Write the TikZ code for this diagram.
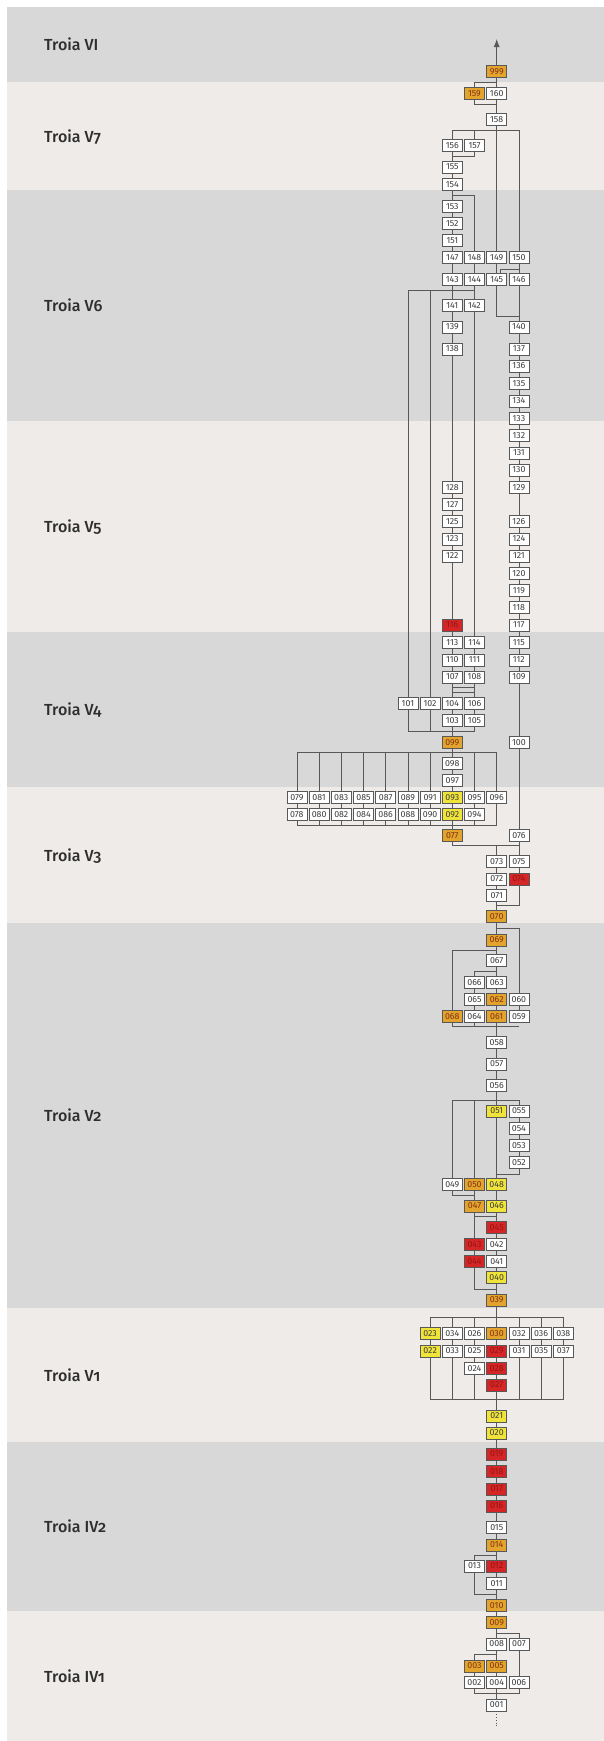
\documentclass[tikz,border=0pt]{standalone}
\usepackage{fontspec}
\setmainfont{Fira Sans}[Numbers=OldStyle]
\newfontfamily\labfont{Fira Sans Medium}[Numbers=OldStyle]
\newfontfamily\boxfont{Fira Sans}[Numbers=Lining]
\usetikzlibrary{arrows.meta}
\definecolor{bandD}{RGB}{216,216,216}
\definecolor{bandL}{RGB}{238,235,232}
\definecolor{linec}{RGB}{88,88,88}
\definecolor{txtc}{RGB}{60,60,60}
\definecolor{orangec}{RGB}{226,164,44}
\definecolor{yellowc}{RGB}{240,228,58}
\definecolor{redc}{RGB}{212,38,38}
\definecolor{redtxt}{RGB}{150,20,20}
\definecolor{orgtxt}{RGB}{130,50,20}
\pgfdeclarelayer{linel}
\pgfsetlayers{linel,main}
\newcommand{\hmbox}[4][]{\node[hbox,#1] (n#4) at (#2,#3) {#4};}
\begin{document}
\begin{tikzpicture}[x=1pt,y=-1pt,
  hbox/.style={draw=linec,fill=white,line width=0.8pt,minimum width=20pt,minimum height=12pt,inner sep=0pt,
    font=\boxfont\fontsize{8.8}{9}\selectfont,text=txtc},
  orng/.style={fill=orangec,text=orgtxt},
  yelw/.style={fill=yellowc,text=txtc},
  redb/.style={fill=redc,text=redtxt},
  conn/.style={draw=linec,line width=0.8pt},
  lab/.style={anchor=base west,inner sep=0pt,font=\labfont\fontsize{16}{18}\selectfont,text=black!82}]
\useasboundingbox (0,0) rectangle (604,1741);

% ---------------- boxes ----------------
\hmbox[orng]{496.7}{71.2}{999}
\hmbox[orng]{474.5}{93.5}{159}
\hmbox{496.7}{93.5}{160}
\hmbox{496.7}{119.3}{158}
\hmbox{452.3}{145.8}{156}
\hmbox{474.5}{145.8}{157}
\hmbox{452.3}{167}{155}
\hmbox{452.3}{184.4}{154}
\hmbox{452.3}{206.2}{153}
\hmbox{452.3}{223.3}{152}
\hmbox{452.3}{240.7}{151}
\hmbox{452.3}{257.8}{147}
\hmbox{474.5}{257.8}{148}
\hmbox{496.7}{257.8}{149}
\hmbox{518.9}{257.8}{150}
\hmbox{452.3}{279.7}{143}
\hmbox{474.5}{279.7}{144}
\hmbox{496.7}{279.7}{145}
\hmbox{518.9}{279.7}{146}
\hmbox{452.3}{305.8}{141}
\hmbox{474.5}{305.8}{142}
\hmbox{452.3}{327}{139}
\hmbox{452.3}{349}{138}
\hmbox{518.9}{327}{140}
\hmbox{518.9}{349}{137}
\hmbox{518.9}{366}{136}
\hmbox{518.9}{383.3}{135}
\hmbox{518.9}{401}{134}
\hmbox{518.9}{418.3}{133}
\hmbox{518.9}{435.7}{132}
\hmbox{518.9}{453}{131}
\hmbox{518.9}{470}{130}
\hmbox{518.9}{487.3}{129}
\hmbox{452.3}{487.3}{128}
\hmbox{452.3}{504.3}{127}
\hmbox{452.3}{521.7}{125}
\hmbox{452.3}{539}{123}
\hmbox{452.3}{556}{122}
\hmbox{518.9}{521.7}{126}
\hmbox{518.9}{539}{124}
\hmbox{518.9}{556}{121}
\hmbox{518.9}{573.3}{120}
\hmbox{518.9}{590.7}{119}
\hmbox{518.9}{607.7}{118}
\hmbox{518.9}{625}{117}
\hmbox[redb]{452.3}{625}{116}
\hmbox{452.3}{642.3}{113}
\hmbox{474.5}{642.3}{114}
\hmbox{518.9}{642.3}{115}
\hmbox{452.3}{660}{110}
\hmbox{474.5}{660}{111}
\hmbox{518.9}{660}{112}
\hmbox{452.3}{677}{107}
\hmbox{474.5}{677}{108}
\hmbox{518.9}{677}{109}
\hmbox{407.9}{703.3}{101}
\hmbox{430.1}{703.3}{102}
\hmbox{452.3}{703.3}{104}
\hmbox{474.5}{703.3}{106}
\hmbox{452.3}{720.7}{103}
\hmbox{474.5}{720.7}{105}
\hmbox[orng]{452.3}{742.3}{099}
\hmbox{518.9}{742.3}{100}
\hmbox{452.3}{763.3}{098}
\hmbox{452.3}{780.7}{097}
\hmbox{296.9}{797.3}{079}
\hmbox{319.1}{797.3}{081}
\hmbox{341.3}{797.3}{083}
\hmbox{363.5}{797.3}{085}
\hmbox{385.7}{797.3}{087}
\hmbox{407.9}{797.3}{089}
\hmbox{430.1}{797.3}{091}
\hmbox[yelw]{452.3}{797.3}{093}
\hmbox{474.5}{797.3}{095}
\hmbox{496.7}{797.3}{096}
\hmbox{296.9}{814.3}{078}
\hmbox{319.1}{814.3}{080}
\hmbox{341.3}{814.3}{082}
\hmbox{363.5}{814.3}{084}
\hmbox{385.7}{814.3}{086}
\hmbox{407.9}{814.3}{088}
\hmbox{430.1}{814.3}{090}
\hmbox[yelw]{452.3}{814.3}{092}
\hmbox{474.5}{814.3}{094}
\hmbox[orng]{452.3}{835.7}{077}
\hmbox{518.9}{835.7}{076}
\hmbox{496.7}{861.7}{073}
\hmbox{518.9}{861.7}{075}
\hmbox{496.7}{879}{072}
\hmbox[redb]{518.9}{879}{074}
\hmbox{496.7}{895.7}{071}
\hmbox[orng]{496.7}{916.7}{070}
\hmbox[orng]{496.7}{940}{069}
\hmbox{496.7}{960.7}{067}
\hmbox{474.5}{982.3}{066}
\hmbox{496.7}{982.3}{063}
\hmbox{474.5}{999.3}{065}
\hmbox[orng]{496.7}{999.3}{062}
\hmbox{518.9}{999.3}{060}
\hmbox[orng]{452.3}{1016.7}{068}
\hmbox{474.5}{1016.7}{064}
\hmbox[orng]{496.7}{1016.7}{061}
\hmbox{518.9}{1016.7}{059}
\hmbox{496.7}{1042.7}{058}
\hmbox{496.7}{1064}{057}
\hmbox{496.7}{1085.7}{056}
\hmbox[yelw]{496.7}{1111}{051}
\hmbox{518.9}{1111}{055}
\hmbox{518.9}{1128.3}{054}
\hmbox{518.9}{1145.7}{053}
\hmbox{518.9}{1162.7}{052}
\hmbox{452.3}{1184.3}{049}
\hmbox[orng]{474.5}{1184.3}{050}
\hmbox[yelw]{496.7}{1184.3}{048}
\hmbox[orng]{474.5}{1206}{047}
\hmbox[yelw]{496.7}{1206}{046}
\hmbox[redb]{496.7}{1227.3}{045}
\hmbox[redb]{474.5}{1244.3}{043}
\hmbox{496.7}{1244.3}{042}
\hmbox[redb]{474.5}{1261.7}{044}
\hmbox{496.7}{1261.7}{041}
\hmbox[yelw]{496.7}{1277.7}{040}
\hmbox[orng]{496.7}{1300}{039}
\hmbox[yelw]{430.1}{1333.3}{023}
\hmbox{452.3}{1333.3}{034}
\hmbox{474.5}{1333.3}{026}
\hmbox[orng]{496.7}{1333.3}{030}
\hmbox{518.9}{1333.3}{032}
\hmbox{541.1}{1333.3}{036}
\hmbox{563.3}{1333.3}{038}
\hmbox[yelw]{430.1}{1351}{022}
\hmbox{452.3}{1351}{033}
\hmbox{474.5}{1351}{025}
\hmbox[redb]{496.7}{1351}{029}
\hmbox{518.9}{1351}{031}
\hmbox{541.1}{1351}{035}
\hmbox{563.3}{1351}{037}
\hmbox{474.5}{1368.3}{024}
\hmbox[redb]{496.7}{1368.3}{028}
\hmbox[redb]{496.7}{1385}{027}
\hmbox[yelw]{496.7}{1416}{021}
\hmbox[yelw]{496.7}{1433}{020}
\hmbox[redb]{496.7}{1454}{019}
\hmbox[redb]{496.7}{1471.7}{018}
\hmbox[redb]{496.7}{1489}{017}
\hmbox[redb]{496.7}{1506}{016}
\hmbox{496.7}{1527.7}{015}
\hmbox[orng]{496.7}{1545}{014}
\hmbox{474.5}{1566}{013}
\hmbox[redb]{496.7}{1566}{012}
\hmbox{496.7}{1583.3}{011}
\hmbox[orng]{496.7}{1605.7}{010}
\hmbox[orng]{496.7}{1622.7}{009}
\hmbox{496.7}{1644}{008}
\hmbox{518.9}{1644}{007}
\hmbox[orng]{474.5}{1666}{003}
\hmbox[orng]{496.7}{1666}{005}
\hmbox{474.5}{1682.7}{002}
\hmbox{496.7}{1682.7}{004}
\hmbox{518.9}{1682.7}{006}
\hmbox{496.7}{1705}{001}

% ---------------- labels ----------------
\node[lab] (lVI)  at (44,50.5)   {Troia VI};
\node[lab] (lV7)  at (44,142)    {Troia V7};
\node[lab] (lV6)  at (44,311.5)  {Troia V6};
\node[lab] (lV5)  at (44,532.5)  {Troia V5};
\node[lab] (lV4)  at (44,715.5)  {Troia V4};
\node[lab] (lV3)  at (44,861)    {Troia V3};
\node[lab] (lV2)  at (44,1121.5) {Troia V2};
\node[lab] (lV1)  at (44,1381)   {Troia V1};
\node[lab] (lIV2) at (44,1532.5) {Troia IV2};
\node[lab] (lIV1) at (44,1682)   {Troia IV1};

\begin{pgfonlayer}{linel}
% bands
\fill[bandD] (7,7) rectangle (604,82);
\fill[bandL] (7,82) rectangle (604,190);
\fill[bandD] (7,190) rectangle (604,421);
\fill[bandL] (7,421) rectangle (604,632);
\fill[bandD] (7,632) rectangle (604,787);
\fill[bandL] (7,787) rectangle (604,923);
\fill[bandD] (7,923) rectangle (604,1308);
\fill[bandL] (7,1308) rectangle (604,1442);
\fill[bandD] (7,1442) rectangle (604,1611);
\fill[bandL] (7,1611) rectangle (604,1741);

% bus coordinates
\coordinate (tip) at (496.7,39);
\coordinate (b1) at (496.7,82.7);
\coordinate (b2) at (496.7,104);
\coordinate (b3) at (496.7,130.7);
\coordinate (b4) at (452.3,156);
\coordinate (b5) at (452.3,195);
\coordinate (b6) at (518.9,269);
\coordinate (b7) at (518.9,316.7);
\coordinate (b8) at (474.5,290);
\coordinate (b9) at (474.5,731);
\coordinate (b10) at (296.9,752.7);
\coordinate (b11) at (496.7,825);
\coordinate (b12) at (518.9,845.7);
\coordinate (b13) at (496.7,905.7);
\coordinate (b14) at (518.9,928.3);
\coordinate (b15) at (496.7,950);
\coordinate (b16) at (496.7,971.7);
\coordinate (b17) at (518.9,1026.7);
\coordinate (b18) at (518.9,1100.7);
\coordinate (b19) at (496.7,1174);
\coordinate (b20) at (474.5,1195);
\coordinate (b21) at (496.7,1216);
\coordinate (b22) at (496.7,1289.3);
\coordinate (b23) at (563.3,1317.3);
\coordinate (b24) at (563.3,1399.3);
\coordinate (b25) at (496.7,1555);
\coordinate (b26) at (496.7,1594);
\coordinate (b27) at (496.7,1633.3);
\coordinate (b28) at (496.7,1654.3);
\coordinate (b29) at (518.9,1693.3);
\coordinate (dend) at (496.7,1727);

% top
\draw[conn,-{Latex[length=8pt,width=6pt]}] (n999.north) -- (tip);
\draw[conn] (n999.south) -- (n160.north);
\draw[conn] (n159.north) |- (b1);
\draw[conn] (n159.south) |- (b2);
\draw[conn] (n160.south) -- (n158.north);
\draw[conn] (n156.north) |- (b3);
\draw[conn] (n157.north) -- (n157.north |- b3);
\draw[conn] (b3) -| (n150.north);
\draw[conn] (n158.south) -- (n149.north);
\draw[conn] (n157.south) |- (b4);
\draw[conn] (b5) -| (n148.north);
\foreach \a/\b in {156/155,155/154,154/153,153/152,152/151,151/147,147/143,148/144,149/145,150/146,
  143/141,144/142,141/139,139/138,138/128,142/114}
  \draw[conn] (n\a.south) -- (n\b.north);
\draw[conn] ([xshift=4pt]n145.north) |- (b6);
\draw[conn] (n145.south) |- (b7);
\draw[conn] (n146.south) -- (n140.north);
\draw[conn] (n101.north) |- (b8);
\draw[conn] (n102.north) -- (n102.north |- b8);
% right column
\foreach \a/\b in {140/137,137/136,136/135,135/134,134/133,133/132,132/131,131/130,130/129,129/126,
  126/124,124/121,121/120,120/119,119/118,118/117,117/115,115/112,112/109,109/100,100/076,076/075,075/074}
  \draw[conn] (n\a.south) -- (n\b.north);
% left columns V5/V4
\foreach \a/\b in {128/127,127/125,125/123,123/122,122/116,116/113,113/110,110/107,107/104,104/103,
  114/111,111/108,108/106,106/105,103/099}
  \draw[conn] (n\a.south) -- (n\b.north);
\draw[conn] ([yshift=-4.3pt]n107.south) -- ([yshift=-4.3pt]n108.south);
\draw[conn] ([yshift=-8.6pt]n107.south) -- ([yshift=-8.6pt]n108.south);
\draw[conn] (n101.south) |- (b9);
\draw[conn] (n102.south) -- (n102.south |- b9);
\draw[conn] (n105.south) -- (b9);
% V3 fan
\draw[conn] (n096.north) |- (b10);
\foreach \a in {079,081,083,085,087,089,091,095}
  \draw[conn] (n\a.north) -- (n\a.north |- b10);
\foreach \a/\b in {099/098,098/097,097/093,079/078,081/080,083/082,085/084,087/086,089/088,091/090,093/092,095/094,092/077}
  \draw[conn] (n\a.south) -- (n\b.north);
\draw[conn] (n078.south) |- (b11);
\draw[conn] (n096.south) -- (b11);
\foreach \a in {080,082,084,086,088,090,094}
  \draw[conn] (n\a.south) -- (n\a.south |- b11);
\draw[conn] (n077.south) |- (b12);
\draw[conn] (n073.north) -- (n073.north |- b12);
\foreach \a/\b in {073/072,072/071,071/070,070/069,069/067,067/063,066/065,065/064,063/062,062/061,060/059,
  061/058,058/057,057/056,056/051,055/054,054/053,053/052,051/048,050/047,048/046,046/045,047/043,043/044,
  045/042,042/041,041/040,040/039,039/030}
  \draw[conn] (n\a.south) -- (n\b.north);
\draw[conn] (n074.south) |- (b13);
\draw[conn] (n070.south |- b14) -| (n060.north);
\draw[conn] (n068.north) |- (b15);
\draw[conn] (n066.north) |- (b16);
\draw[conn] (n068.south) |- (b17);
\draw[conn] (n064.south) -- (n064.south |- b17);
\draw[conn] (n049.north) |- (b18) -- (n055.north);
\draw[conn] (n050.north) -- (n050.north |- b18);
\draw[conn] (n052.south) |- (b19);
\draw[conn] (n049.south) |- (b20);
\draw[conn] (n047.south) |- (b21);
\draw[conn] (n044.south) |- (b22);
% V1
\draw[conn] (n023.north) |- (b23) -- (n038.north);
\foreach \a in {034,026,032,036}
  \draw[conn] (n\a.north) -- (n\a.north |- b23);
\foreach \a/\b in {023/022,034/033,026/025,030/029,032/031,036/035,038/037,025/024,029/028,028/027,027/021}
  \draw[conn] (n\a.south) -- (n\b.north);
\draw[conn] (n022.south) |- (b24) -- (n037.south);
\foreach \a in {033,024,031,035}
  \draw[conn] (n\a.south) -- (n\a.south |- b24);
% IV
\foreach \a/\b in {021/020,020/019,019/018,018/017,017/016,016/015,015/014,014/012,012/011,011/010,
  010/009,009/008,008/005,005/004,004/001,007/006,003/002}
  \draw[conn] (n\a.south) -- (n\b.north);
\draw[conn] (n013.north) |- (b25);
\draw[conn] (n013.south) |- (b26);
\draw[conn] (b27) -| (n007.north);
\draw[conn] (n003.north) |- (b28);
\draw[conn] (n002.south) |- (b29) -- (n006.south);
\draw[conn,dotted] (n001.south) -- (dend);
\end{pgfonlayer}
\end{tikzpicture}
\end{document}
